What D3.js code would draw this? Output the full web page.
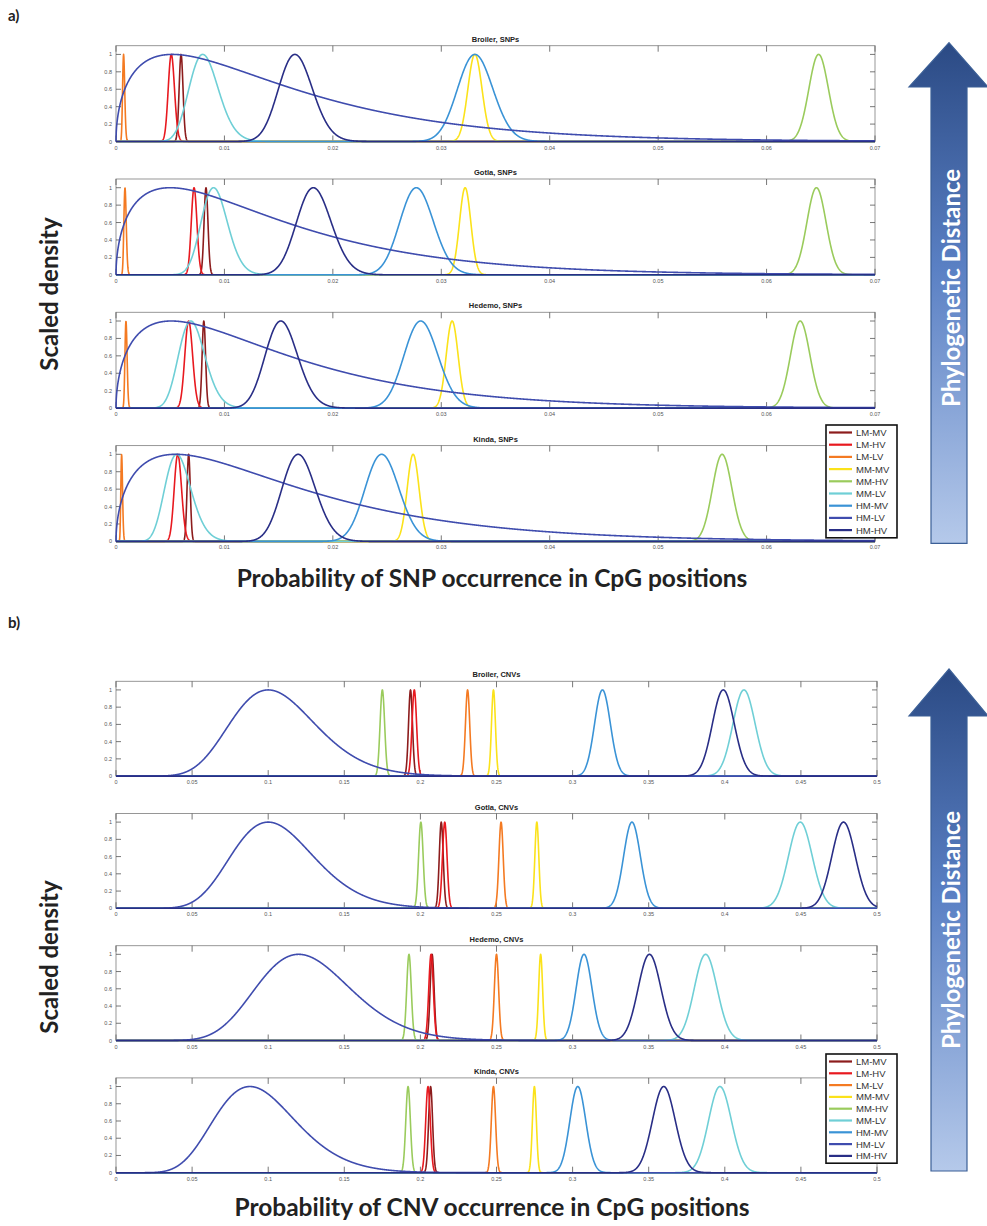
<!DOCTYPE html>
<html>
<head>
<meta charset="utf-8">
<script src="https://cdn.jsdelivr.net/npm/d3@7"></script>
<style>
  body { margin: 0; background: #fff; }
  text { font-family: 'Liberation Sans', Arial, sans-serif; }
  .big { font-family: Lato, 'Open Sans', sans-serif; font-weight: bold; }
</style>
</head>
<body>
<svg id="figure"></svg>
<script>
const genotypes = ['LM-MV', 'LM-HV', 'LM-LV', 'MM-MV', 'MM-HV', 'MM-LV', 'HM-MV', 'HM-LV', 'HM-HV'];
const breeds = ['Broiler', 'Gotla', 'Hedemo', 'Kinda'];

// peak position (mode) of each curve, rows = breeds, columns = genotypes
const snpModes = [
  [0.0060, 0.0051, 0.00070, 0.0331, 0.0648, 0.0080, 0.0331, 0.0052, 0.0165],
  [0.0083, 0.0072, 0.00083, 0.0322, 0.0646, 0.0090, 0.0277, 0.0050, 0.0182],
  [0.0081, 0.0067, 0.00092, 0.0310, 0.0631, 0.0069, 0.0281, 0.0051, 0.0152],
  [0.0067, 0.0057, 0.00052, 0.0274, 0.0559, 0.0056, 0.0245, 0.0055, 0.0168]
];
// spread (sd) of each curve
const snpSpreads = [
  [0.00018, 0.00029, 0.00010, 0.00065, 0.00090, 0.00137, 0.00163, 0.0127, 0.00157],
  [0.00018, 0.00026, 0.00011, 0.00052, 0.00088, 0.00122, 0.00156, 0.0120, 0.00160],
  [0.00016, 0.00036, 0.00010, 0.00055, 0.00090, 0.00123, 0.00157, 0.0121, 0.00150],
  [0.00015, 0.00034, 0.00008, 0.00055, 0.00090, 0.00123, 0.00157, 0.0131, 0.00155]
];
const cnvModes = [
  [0.1935, 0.1960, 0.2310, 0.2480, 0.1750, 0.4126, 0.3196, 0.100, 0.3990],
  [0.2137, 0.2160, 0.2530, 0.2765, 0.2003, 0.4496, 0.3390, 0.100, 0.4780],
  [0.2077, 0.2070, 0.2500, 0.2790, 0.1925, 0.3874, 0.3075, 0.120, 0.3505],
  [0.2067, 0.2050, 0.2480, 0.2749, 0.1919, 0.3968, 0.3034, 0.088, 0.3599]
];
const cnvSpreads = [
  [0.0013, 0.0015, 0.0014, 0.0013, 0.0015, 0.0073, 0.0052, 0.029, 0.0072],
  [0.0013, 0.0015, 0.0014, 0.0013, 0.0015, 0.0078, 0.0055, 0.028, 0.0077],
  [0.0013, 0.0015, 0.0014, 0.0013, 0.0015, 0.0075, 0.0052, 0.032, 0.0075],
  [0.0013, 0.0015, 0.0014, 0.0013, 0.0015, 0.0075, 0.0052, 0.028, 0.0075]
];
const snpTicks = [0, 0.01, 0.02, 0.03, 0.04, 0.05, 0.06, 0.07];
const cnvTicks = [0, 0.05, 0.1, 0.15, 0.2, 0.25, 0.3, 0.35, 0.4, 0.45, 0.5];
const densityTicks = [0, 0.2, 0.4, 0.6, 0.8, 1];

const colours = ['#8c1c1c', '#e8191f', '#f47a22', '#fbe21a', '#9acb5c', '#6fcfd6', '#3a93d6', '#3f4cae', '#292e86'];

const width = 987;
const height = 1226;
const svg = d3.select('#figure').attr('width', width).attr('height', height);

// gamma shaped density scaled so that the peak is 1
const scaledDensity = (mode, spread) => {
  const r = spread / mode;
  const u = (1 + Math.sqrt(1 + 4 * r * r)) / (2 * r);
  const k = u * u;
  const theta = mode / (k - 1);
  return x => (x <= 0 ? 0 : Math.exp((k - 1) * Math.log(x / mode) - (x - mode) / theta));
};

let clipId = 0;

const drawSubplot = (cfg, row) => {
  const top = cfg.top + row * cfg.step;
  const xScale = d3.scaleLinear().domain([0, cfg.xmax]).range([cfg.left, cfg.right]);
  const yScale = d3.scaleLinear().domain([0, 1.1]).range([top + cfg.h, top]);
  const g = svg.append('g').attr('class', 'subplot');

  g.append('rect')
    .attr('x', cfg.left).attr('y', top)
    .attr('width', cfg.right - cfg.left).attr('height', cfg.h)
    .attr('fill', '#fff').attr('stroke', '#8c8c8c').attr('stroke-width', 0.9);

  // ticks on all four sides, pointing inward
  cfg.ticks.forEach(t => {
    const x = xScale(t);
    g.append('line').attr('x1', x).attr('x2', x).attr('y1', top).attr('y2', top + 6)
      .attr('stroke', '#555').attr('stroke-width', 0.8);
    g.append('line').attr('x1', x).attr('x2', x).attr('y1', top + cfg.h).attr('y2', top + cfg.h - 6)
      .attr('stroke', '#555').attr('stroke-width', 0.8);
    g.append('text').attr('x', x).attr('y', top + cfg.h + 8)
      .attr('text-anchor', 'middle').attr('font-size', 5.5).attr('fill', '#555')
      .text(String(t));
  });
  densityTicks.forEach(t => {
    const y = yScale(t);
    g.append('line').attr('x1', cfg.left).attr('x2', cfg.left + 5).attr('y1', y).attr('y2', y)
      .attr('stroke', '#555').attr('stroke-width', 0.8);
    g.append('line').attr('x1', cfg.right).attr('x2', cfg.right - 5).attr('y1', y).attr('y2', y)
      .attr('stroke', '#555').attr('stroke-width', 0.8);
    g.append('text').attr('x', cfg.left - 4).attr('y', y + 2)
      .attr('text-anchor', 'end').attr('font-size', 5.5).attr('fill', '#555')
      .text(String(t));
  });

  g.append('text')
    .attr('x', (cfg.left + cfg.right) / 2).attr('y', top - 4)
    .attr('text-anchor', 'middle').attr('font-size', 7.5).attr('font-weight', 'bold')
    .attr('fill', '#222')
    .text(breeds[row] + ', ' + cfg.kind);

  const id = 'clip' + clipId++;
  svg.append('clipPath').attr('id', id)
    .append('rect')
    .attr('x', cfg.left - 1).attr('y', top - 2)
    .attr('width', cfg.right - cfg.left + 2).attr('height', cfg.h + 4);

  const xs = d3.range(0, 3001).map(i => (i / 3000) * cfg.xmax);
  const line = d3.line().x(d => xScale(d[0])).y(d => yScale(d[1]));

  const curves = g.append('g').attr('clip-path', 'url(#' + id + ')');
  genotypes.forEach((name, j) => {
    const f = scaledDensity(cfg.modes[row][j], cfg.spreads[row][j]);
    curves.append('path')
      .datum(xs.map(x => [x, f(x)]))
      .attr('d', line)
      .attr('fill', 'none')
      .attr('stroke', colours[j])
      .attr('stroke-width', 1.6)
      .attr('stroke-linejoin', 'round');
  });
};

const drawLegend = (x, y, w, rowH) => {
  const g = svg.append('g').attr('class', 'legend');
  g.append('rect')
    .attr('x', x).attr('y', y)
    .attr('width', w).attr('height', rowH * genotypes.length + 3)
    .attr('fill', '#fff').attr('stroke', '#111').attr('stroke-width', 1.6);
  genotypes.forEach((name, j) => {
    const cy = y + 7.5 + j * rowH;
    g.append('line').attr('x1', x + 3).attr('x2', x + 26).attr('y1', cy).attr('y2', cy)
      .attr('stroke', colours[j]).attr('stroke-width', 2.2);
    g.append('text').attr('x', x + 30).attr('y', cy + 3.4)
      .attr('font-size', 9.5).attr('fill', '#333')
      .text(name);
  });
};

const drawArrow = (tip, headBase, bottom, textY, gradId) => {
  const grad = svg.append('defs').append('linearGradient')
    .attr('id', gradId).attr('x1', 0).attr('y1', 0).attr('x2', 0).attr('y2', 1);
  grad.append('stop').attr('offset', '0%').attr('stop-color', '#2b4a84');
  grad.append('stop').attr('offset', '45%').attr('stop-color', '#5a80c4');
  grad.append('stop').attr('offset', '100%').attr('stop-color', '#b5c9ea');

  const cx = 949;
  const pts = [
    [cx, tip], [cx + 39, headBase], [cx + 18, headBase], [cx + 18, bottom],
    [cx - 18, bottom], [cx - 18, headBase], [cx - 40, headBase]
  ];
  svg.append('path')
    .attr('d', 'M' + pts.map(p => p.join(',')).join('L') + 'Z')
    .attr('fill', 'url(#' + gradId + ')')
    .attr('stroke', '#3b5f96').attr('stroke-width', 1.2);

  svg.append('text')
    .attr('class', 'big')
    .attr('transform', 'translate(' + (cx + 1) + ',' + textY + ') rotate(-90)')
    .attr('text-anchor', 'middle').attr('dominant-baseline', 'central')
    .attr('font-size', 24).attr('fill', '#fff')
    .text('Phylogenetic Distance');
};

const panels = [
  { kind: 'SNPs', top: 45.7, step: 133.3, h: 95.8, left: 116, right: 875, xmax: 0.07,
    ticks: snpTicks, modes: snpModes, spreads: snpSpreads,
    label: 'a)', labelY: 21, title: 'Probability of SNP occurrence in CpG positions', titleY: 587,
    yLabelY: 294, legendY: 425, legendRow: 12.2, arrow: [42.7, 87, 543.3, 288] },
  { kind: 'CNVs', top: 681.3, step: 132.2, h: 94.8, left: 116, right: 877, xmax: 0.5,
    ticks: cnvTicks, modes: cnvModes, spreads: cnvSpreads,
    label: 'b)', labelY: 628, title: 'Probability of CNV occurrence in CpG positions', titleY: 1216,
    yLabelY: 957, legendY: 1054, legendRow: 11.8, arrow: [669, 716, 1171, 930] }
];

panels.forEach((cfg, p) => {
  breeds.forEach((b, row) => drawSubplot(cfg, row));
  drawLegend(826, cfg.legendY, 71, cfg.legendRow);
  drawArrow(cfg.arrow[0], cfg.arrow[1], cfg.arrow[2], cfg.arrow[3], 'arrowGrad' + p);

  svg.append('text')
    .attr('class', 'big')
    .attr('x', 8).attr('y', cfg.labelY)
    .attr('font-size', 15).attr('fill', '#222')
    .text(cfg.label);
  svg.append('text')
    .attr('class', 'big')
    .attr('x', 492).attr('y', cfg.titleY)
    .attr('text-anchor', 'middle')
    .attr('font-size', 24.5).attr('fill', '#222')
    .text(cfg.title);
  svg.append('text')
    .attr('class', 'big')
    .attr('transform', 'translate(48,' + cfg.yLabelY + ') rotate(-90)')
    .attr('text-anchor', 'middle').attr('dominant-baseline', 'central')
    .attr('font-size', 24).attr('fill', '#222')
    .text('Scaled density');
});
</script>
</body>
</html>
